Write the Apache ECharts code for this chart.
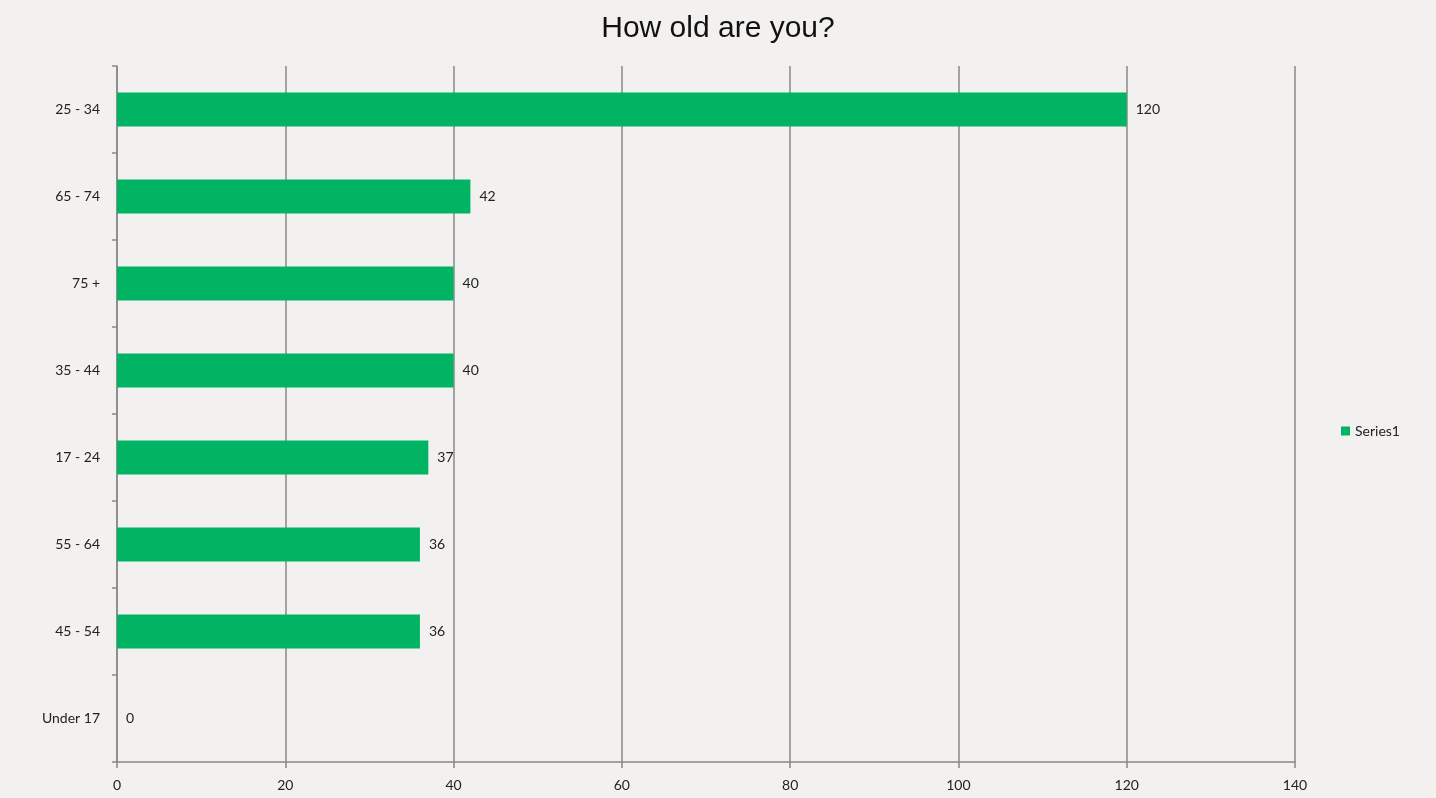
<!DOCTYPE html>
<html><head><meta charset="utf-8">
<script src="https://cdn.jsdelivr.net/npm/echarts@6/dist/echarts.min.js"></script>
<style>html,body{margin:0;padding:0;background:#f2f1ef;}#c{width:1436px;height:798px;}</style>
</head><body><div id="c"></div>
<script>
const categories = ['Under 17','45 - 54','55 - 64','17 - 24','35 - 44','75 +','65 - 74','25 - 34'];
const values = [0,36,36,37,40,40,42,120];
const xTicks = [0,20,40,60,80,100,120,140];
const seriesName = 'Series1';

const chart = echarts.init(document.getElementById('c'));
const lblFont = 'Lato, "Open Sans", sans-serif';
chart.setOption({
  backgroundColor: '#f2f1ef',
  animation: false,
  title: {
    text: 'How old are you?', left: 'center', top: 9,
    textStyle: { fontFamily: '"Liberation Sans", Arial, sans-serif', fontSize: 30, fontWeight: 'normal', color: '#111' }
  },
  legend: {
    data: [seriesName], orient: 'vertical', left: 1336, top: 419,
    itemWidth: 9, itemHeight: 9, itemGap: 5, icon: 'rect',
    textStyle: { fontFamily: lblFont, fontSize: 14, color: '#222' }
  },
  grid: { left: 117, right: 141, top: 66, bottom: 36, containLabel: false },
  xAxis: {
    type: 'value', min: xTicks[0], max: xTicks[xTicks.length-1], interval: 20,
    axisLine: { show: true, lineStyle: { color: '#888', width: 1.5 } },
    axisTick: { show: true, length: 6, lineStyle: { color: '#888', width: 1.5 } },
    splitLine: { show: true, lineStyle: { color: '#888', width: 1.5 } },
    axisLabel: { margin: 16, fontFamily: lblFont, fontSize: 14, color: '#222' }
  },
  yAxis: {
    type: 'category', data: categories,
    axisLine: { show: true, lineStyle: { color: '#888', width: 1.5 } },
    axisTick: { show: true, length: 5, lineStyle: { color: '#888', width: 1.5 } },
    axisLabel: { margin: 17, fontFamily: lblFont, fontSize: 14, color: '#222', padding: [5, 0, 0, 0] }
  },
  series: [{
    name: seriesName, type: 'bar', data: values, barWidth: 34,
    itemStyle: { color: '#00b464' },
    label: { show: true, position: 'right', distance: 9, fontFamily: lblFont, fontSize: 14, color: '#222', padding: [5, 0, 0, 0] }
  }]
});
</script></body></html>
